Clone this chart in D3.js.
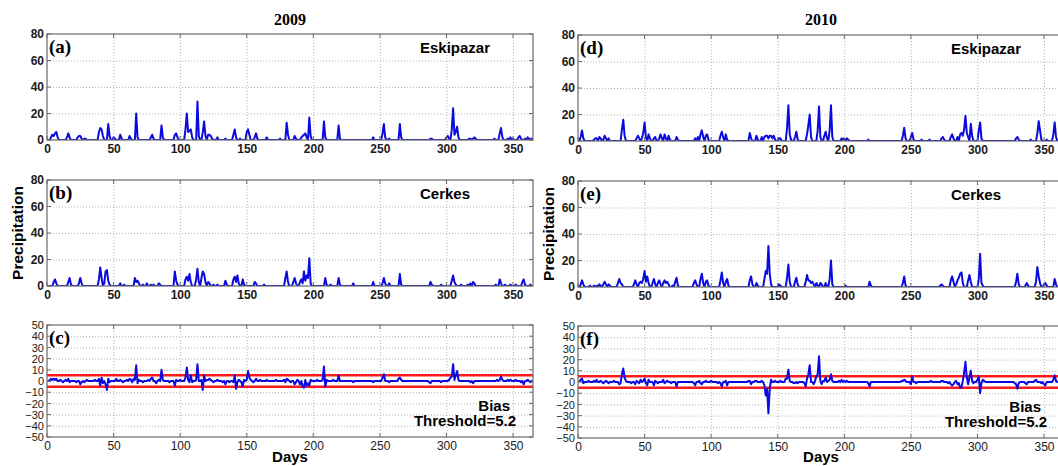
<!DOCTYPE html>
<html>
<head>
<meta charset="utf-8">
<script src="https://cdn.jsdelivr.net/npm/d3@7"></script>
<style>
  body { margin: 0; background: #fff; }
  svg { display: block; }
</style>
</head>
<body>
<svg class="chart" width="1058" height="466"></svg>
<script>
// daily values as [day, value]; days that are not listed had 0
const eskipazar2009 = [[3,2],[4,4],[5,3],[6,5],[7,6],[8,2],[15,2],[16,5],[17,2],[23,2],[24,3],[25,3],[26,1],[28,1],[29,1],[39,6],[40,9],[41,8],[42,3],[46,12],[47,3],[50,2],[51,1],[55,4],[56,1],[62,3],[63,1],[67,20],[68,2],[78,2],[79,4],[80,1],[86,11],[87,2],[96,4],[97,5],[98,2],[104,8],[105,20],[106,6],[107,7],[108,8],[109,2],[113,29],[114,3],[117,6],[118,14],[119,3],[121,4],[122,4],[123,3],[124,1],[128,2],[134,1],[140,4],[141,8],[142,2],[145,1],[150,6],[151,8],[152,4],[156,2],[157,5],[158,1],[165,2],[175,1],[180,13],[181,4],[186,3],[187,1],[191,2],[192,3],[193,4],[194,5],[195,2],[197,17],[198,3],[208,14],[209,2],[219,11],[220,1],[245,2],[252,5],[253,12],[254,2],[257,1],[265,12],[266,2],[288,1],[289,1],[300,2],[301,3],[302,1],[304,8],[305,24],[306,4],[307,6],[308,10],[309,2],[317,1],[318,1],[320,1],[321,2],[322,1],[336,1],[340,5],[341,9],[342,2],[346,1],[348,2],[350,1],[354,2],[355,3],[356,1],[359,1],[361,2],[362,1],[364,1]];

const cerkes2009 = [[5,3],[6,5],[7,2],[16,3],[17,6],[18,1],[24,2],[25,6],[26,2],[39,5],[40,14],[41,6],[43,2],[44,11],[45,12],[46,4],[47,1],[55,2],[58,1],[66,6],[67,3],[68,4],[69,2],[72,1],[75,2],[78,1],[80,1],[84,2],[85,1],[96,11],[97,4],[98,1],[104,5],[105,7],[106,4],[107,9],[108,3],[112,5],[113,13],[114,3],[116,6],[117,11],[118,9],[119,3],[121,3],[122,2],[125,1],[128,1],[134,4],[135,1],[140,5],[141,7],[142,3],[143,8],[144,2],[147,5],[148,1],[156,3],[157,2],[163,1],[179,6],[180,11],[181,3],[185,3],[186,6],[187,2],[190,3],[191,5],[192,2],[193,11],[194,4],[195,8],[196,6],[197,21],[198,2],[209,6],[210,1],[213,1],[219,6],[220,1],[230,2],[245,3],[252,2],[253,6],[254,2],[257,2],[265,9],[266,1],[288,3],[289,1],[296,1],[304,4],[305,8],[306,3],[307,1],[311,1],[316,1],[318,2],[320,3],[321,2],[337,1],[340,5],[341,2],[344,1],[348,1],[352,1],[357,3],[358,5],[359,1],[363,1]];

const bias2009 = [[1,1],[3,2],[4,1],[5,2],[6,1],[7,2],[10,1],[12,-1],[14,1],[16,2],[17,-1],[22,-1],[25,-3],[26,-1],[28,-1],[30,1],[36,1],[39,2],[40,-4],[41,3],[42,-2],[44,-3],[45,-8],[46,2],[47,-1],[52,2],[55,1],[57,-1],[60,1],[62,2],[63,1],[64,-1],[65,2],[66,1],[67,14],[68,-2],[69,1],[72,-1],[76,1],[78,2],[79,3],[82,-2],[84,1],[86,10],[87,1],[92,-1],[96,-4],[97,1],[100,1],[104,3],[105,12],[106,1],[107,-1],[108,5],[109,-1],[112,1],[113,15],[116,1],[117,-8],[118,5],[120,1],[121,1],[122,2],[123,1],[125,-1],[128,1],[132,-1],[134,-3],[137,-1],[140,-1],[141,5],[142,-7],[143,-1],[144,1],[146,-1],[147,-5],[148,1],[150,1],[151,9],[152,3],[153,1],[155,-1],[157,2],[160,1],[165,1],[172,1],[178,1],[179,-1],[180,2],[181,1],[183,-1],[186,-3],[187,-1],[188,1],[190,-3],[192,-5],[193,-6],[194,1],[195,-4],[196,-2],[197,-4],[198,1],[203,1],[207,1],[208,13],[209,-5],[210,1],[215,1],[219,5],[230,-1],[245,-1],[252,3],[253,6],[257,-1],[264,2],[265,3],[266,1],[287,-1],[288,-2],[296,-1],[302,1],[303,3],[304,4],[305,15],[306,1],[307,5],[308,9],[309,1],[318,-1],[320,-2],[338,1],[340,1],[341,4],[342,1],[346,1],[348,1],[352,1],[356,-1],[358,-3],[361,1],[363,-1]];

const eskipazar2010 = [[2,3],[3,8],[4,2],[12,1],[13,2],[14,2],[16,3],[17,2],[19,1],[20,4],[21,2],[23,2],[33,9],[34,16],[35,4],[44,2],[45,4],[46,2],[48,2],[49,6],[50,14],[51,3],[53,5],[54,2],[57,2],[58,3],[61,2],[62,5],[63,2],[65,5],[66,2],[68,4],[69,1],[74,3],[75,1],[88,2],[90,3],[92,5],[93,8],[94,3],[96,4],[97,5],[98,1],[107,4],[108,7],[109,3],[111,5],[112,1],[129,6],[130,2],[134,4],[135,1],[138,3],[140,3],[141,4],[142,4],[143,2],[144,4],[145,4],[146,2],[147,4],[148,1],[151,2],[152,2],[157,10],[158,27],[159,5],[160,1],[163,3],[164,7],[165,1],[172,5],[173,12],[174,20],[175,3],[180,8],[181,26],[182,3],[185,4],[186,7],[187,2],[189,8],[190,27],[191,3],[198,2],[199,1],[200,2],[202,2],[203,1],[218,1],[244,4],[245,10],[246,2],[250,3],[251,6],[252,1],[258,1],[264,1],[273,2],[274,3],[275,1],[280,3],[281,5],[282,2],[285,3],[287,5],[288,6],[289,4],[290,9],[291,19],[292,6],[293,3],[295,13],[296,4],[301,8],[302,14],[303,2],[329,2],[330,3],[331,1],[340,1],[345,6],[346,15],[347,8],[348,1],[352,1],[357,5],[358,14],[359,3]];

const cerkes2010 = [[2,2],[3,5],[4,2],[9,1],[12,1],[14,1],[16,2],[17,1],[19,2],[20,4],[21,2],[23,2],[24,1],[30,3],[31,6],[32,3],[33,2],[42,2],[43,5],[44,2],[46,3],[47,4],[48,3],[49,6],[50,12],[51,4],[52,8],[53,3],[56,3],[57,6],[58,2],[60,3],[61,5],[62,2],[64,3],[65,5],[66,3],[67,4],[68,2],[71,1],[73,4],[74,7],[75,1],[87,3],[88,5],[89,2],[92,6],[93,10],[94,3],[96,4],[97,5],[98,1],[107,5],[108,11],[109,3],[111,4],[112,6],[113,1],[129,5],[130,8],[131,2],[134,3],[135,1],[140,6],[141,12],[142,10],[143,31],[144,10],[145,2],[151,2],[152,1],[157,7],[158,17],[159,4],[163,4],[164,7],[165,2],[171,4],[172,9],[173,5],[174,5],[175,3],[176,4],[177,2],[179,3],[180,1],[182,3],[183,2],[186,3],[189,6],[190,20],[191,2],[201,1],[219,4],[220,1],[244,3],[245,8],[246,1],[272,1],[273,2],[274,1],[280,5],[281,8],[282,4],[284,2],[285,5],[286,7],[287,10],[288,11],[289,3],[293,5],[294,9],[295,4],[301,6],[302,25],[303,3],[304,1],[329,4],[330,10],[331,2],[336,1],[337,3],[338,1],[344,4],[345,15],[346,8],[347,3],[350,2],[351,3],[352,1],[358,6],[359,2]];

const bias2010 = [[2,2],[3,3],[4,-1],[8,1],[12,1],[14,2],[17,1],[19,-1],[21,1],[23,-1],[27,1],[31,-2],[32,-1],[33,7],[34,12],[35,4],[36,1],[40,-1],[43,-2],[44,1],[46,-1],[47,2],[49,1],[50,3],[51,-1],[52,-3],[53,2],[57,-3],[58,1],[60,-1],[64,2],[65,-1],[67,1],[70,-1],[74,-4],[87,-1],[88,-3],[91,1],[92,-1],[93,-2],[96,1],[100,1],[105,-1],[107,-1],[108,-4],[111,1],[112,-3],[128,1],[129,1],[130,-2],[133,1],[134,1],[138,1],[140,-3],[141,-12],[142,-6],[143,-28],[144,-6],[145,2],[148,1],[152,1],[156,3],[157,3],[158,11],[159,1],[162,-1],[163,-1],[165,-1],[170,-1],[171,-4],[172,3],[173,7],[174,15],[177,-2],[178,1],[179,5],[180,7],[181,23],[182,1],[183,-2],[184,1],[185,1],[186,4],[188,1],[189,2],[190,7],[191,1],[196,1],[198,2],[200,1],[202,1],[218,-1],[219,-4],[243,1],[244,1],[245,2],[246,1],[250,-2],[251,5],[254,-1],[265,1],[273,1],[274,1],[278,-1],[280,-2],[281,-3],[282,-2],[284,1],[285,-2],[286,-1],[287,-5],[288,-5],[289,1],[290,8],[291,18],[292,4],[293,-2],[294,4],[295,10],[296,1],[297,-1],[300,2],[301,5],[302,-10],[303,-1],[304,2],[305,1],[328,-1],[329,-2],[330,-6],[331,-1],[336,-1],[337,-2],[343,1],[344,2],[348,-1],[350,-2],[351,-3],[357,2],[358,6],[359,1]];

const years = ['2009', '2010'];
const stations = ['Eskipazar', 'Cerkes'];
const panelLetters = [['(a)', '(b)', '(c)'], ['(d)', '(e)', '(f)']];
const dayTicks = [0, 50, 100, 150, 200, 250, 300, 350];
const precipTicks = [0, 20, 40, 60, 80];
const biasTicks = [-50, -40, -30, -20, -10, 0, 10, 20, 30, 40, 50];
const biasThreshold = 5.2;
const numDays = 365;

const precipByYear = [[eskipazar2009, cerkes2009], [eskipazar2010, cerkes2010]];
const biasByYear = [bias2009, bias2010];

// layout
const colLeft = [47, 578];
const colShift = [0, 1];
const plotW = 486;
const rows = [
    { top: 34, h: 106 },
    { top: 180, h: 106 },
    { top: 325, h: 112 }
];

const BLUE = '#0a0ae0';
const RED = '#ff1a1a';
const FRAME = '#6a6a6a';

const svg = d3.select('svg.chart');

function toDaily(pairs) {
    var values = new Array(numDays).fill(0);
    pairs.forEach(function (p) { values[p[0] - 1] = p[1]; });
    return values.map(function (v, i) { return [i + 1, v]; });
}

function drawPanel(opts) {
    var x = d3.scaleLinear().domain([0, numDays]).range([opts.left, opts.left + plotW]);
    var y = d3.scaleLinear().domain(opts.domain).range([opts.top + opts.h, opts.top]);
    var g = svg.append('g');
    var clipId = 'clip' + opts.id;

    g.append('clipPath').attr('id', clipId)
        .append('rect')
        .attr('x', opts.left).attr('y', opts.top)
        .attr('width', plotW).attr('height', opts.h);

    // dotted grid
    g.append('g')
        .attr('transform', 'translate(0,' + (opts.top + opts.h) + ')')
        .call(d3.axisBottom(x).tickValues(dayTicks.slice(1)).tickSize(-opts.h).tickFormat(''))
        .call(function (s) { s.select('.domain').remove(); })
        .selectAll('line')
        .attr('stroke', '#b4b4b4')
        .attr('stroke-dasharray', '1,2');

    g.append('g')
        .attr('transform', 'translate(' + opts.left + ',0)')
        .call(d3.axisLeft(y).tickValues(opts.ticks.slice(1, -1)).tickSize(-plotW).tickFormat(''))
        .call(function (s) { s.select('.domain').remove(); })
        .selectAll('line')
        .attr('stroke', '#b4b4b4')
        .attr('stroke-dasharray', '1,2');

    // threshold lines for bias
    if (opts.threshold) {
        g.selectAll('line.thr')
            .data([opts.threshold, -opts.threshold])
            .enter()
            .append('line')
            .attr('class', 'thr')
            .attr('x1', opts.left).attr('x2', opts.left + plotW)
            .attr('y1', function (d) { return y(d); })
            .attr('y2', function (d) { return y(d); })
            .attr('stroke', RED)
            .attr('stroke-width', 2.4);
    }

    var line = d3.line()
        .x(function (d) { return x(d[0]); })
        .y(function (d) { return y(d[1]); });

    g.append('path')
        .datum(toDaily(opts.data))
        .attr('clip-path', 'url(#' + clipId + ')')
        .attr('d', line)
        .attr('fill', 'none')
        .attr('stroke', BLUE)
        .attr('stroke-width', 2)
        .attr('stroke-linejoin', 'round');

    // tick labels
    var labelWeight = opts.threshold ? 'normal' : 'bold';
    var xAxis = g.append('g')
        .attr('transform', 'translate(0,' + (opts.top + opts.h) + ')')
        .call(d3.axisBottom(x).tickValues(dayTicks).tickSize(0).tickPadding(4));
    var yAxis = g.append('g')
        .attr('transform', 'translate(' + opts.left + ',0)')
        .call(d3.axisLeft(y).tickValues(opts.ticks).tickSize(0).tickPadding(3));
    [xAxis, yAxis].forEach(function (a) {
        a.select('.domain').remove();
        a.selectAll('text')
            .attr('fill', '#1a1a1a')
            .style('font-family', '"Liberation Sans", Arial, sans-serif')
            .style('font-size', '12px')
            .style('font-weight', labelWeight);
    });
    if (opts.threshold) {
        // tightly stacked labels, as in the source figure
        yAxis.selectAll('text').style('font-size', '11px').attr('dy', '0.34em');
    }

    // inward tick marks on all sides
    var tl = 4;
    var ticksG = g.append('g').attr('stroke', FRAME).attr('stroke-width', 1);
    dayTicks.forEach(function (t) {
        ticksG.append('line').attr('x1', x(t)).attr('x2', x(t))
            .attr('y1', opts.top + opts.h).attr('y2', opts.top + opts.h - tl);
        ticksG.append('line').attr('x1', x(t)).attr('x2', x(t))
            .attr('y1', opts.top).attr('y2', opts.top + tl);
    });
    opts.ticks.forEach(function (t) {
        ticksG.append('line').attr('x1', opts.left).attr('x2', opts.left + tl)
            .attr('y1', y(t)).attr('y2', y(t));
        ticksG.append('line').attr('x1', opts.left + plotW).attr('x2', opts.left + plotW - tl)
            .attr('y1', y(t)).attr('y2', y(t));
    });

    g.append('rect')
        .attr('x', opts.left).attr('y', opts.top)
        .attr('width', plotW).attr('height', opts.h)
        .attr('fill', 'none')
        .attr('stroke', FRAME)
        .attr('stroke-width', 1.2);

    // panel letter
    g.append('text')
        .attr('x', opts.left + 2)
        .attr('y', opts.top + 19)
        .style('font-family', '"Liberation Serif", "Times New Roman", serif')
        .style('font-weight', 'bold')
        .style('font-size', '19px')
        .text(opts.letter);

    if (opts.station) {
        g.append('text')
            .attr('x', opts.left + 373)
            .attr('y', opts.top + 19)
            .style('font-family', '"Liberation Sans", Arial, sans-serif')
            .style('font-weight', 'bold')
            .style('font-size', '15px')
            .text(opts.station);
    }

    if (opts.threshold) {
        var note = g.append('g')
            .style('font-family', '"Liberation Sans", Arial, sans-serif')
            .style('font-weight', 'bold')
            .style('font-size', '15px')
            .attr('text-anchor', 'end');
        note.append('text').attr('x', opts.left + 463).attr('y', opts.top + 86).text('Bias');
        note.append('text').attr('x', opts.left + 469).attr('y', opts.top + 101).text('Threshold=' + opts.threshold);
    }
}

years.forEach(function (year, c) {
    var left = colLeft[c];
    var dy = colShift[c];

    stations.forEach(function (station, r) {
        drawPanel({
            id: c + '_' + r,
            left: left,
            top: rows[r].top + dy,
            h: rows[r].h,
            domain: [0, 80],
            ticks: precipTicks,
            data: precipByYear[c][r],
            letter: panelLetters[c][r],
            station: station
        });
    });

    drawPanel({
        id: c + '_bias',
        left: left,
        top: rows[2].top + dy,
        h: rows[2].h,
        domain: [-50, 50],
        ticks: biasTicks,
        data: biasByYear[c],
        letter: panelLetters[c][2],
        threshold: biasThreshold
    });

    // year title
    svg.append('text')
        .attr('x', left + plotW / 2)
        .attr('y', 25)
        .attr('text-anchor', 'middle')
        .style('font-family', '"Liberation Serif", "Times New Roman", serif')
        .style('font-weight', 'bold')
        .style('font-size', '16px')
        .text(year);

    svg.append('text')
        .attr('x', left + plotW / 2)
        .attr('y', 462)
        .attr('text-anchor', 'middle')
        .style('font-family', '"Liberation Sans", Arial, sans-serif')
        .style('font-weight', 'bold')
        .style('font-size', '15px')
        .text('Days');

    var labX = c === 0 ? 23 : 554;
    svg.append('text')
        .attr('transform', 'translate(' + labX + ',' + (rows[1].top + dy + rows[1].h / 2) + ') rotate(-90)')
        .attr('text-anchor', 'middle')
        .style('font-family', '"Liberation Sans", Arial, sans-serif')
        .style('font-weight', 'bold')
        .style('font-size', '15.5px')
        .text('Precipitation');
});
</script>
</body>
</html>
